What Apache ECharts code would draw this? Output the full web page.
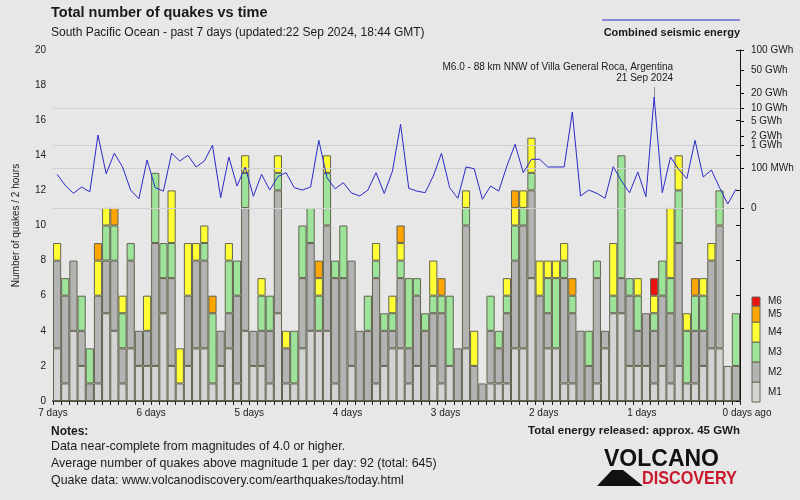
<!DOCTYPE html>
<html><head><meta charset="utf-8">
<script src="https://cdn.jsdelivr.net/npm/echarts@6/dist/echarts.min.js"></script>
<style>html,body{margin:0;padding:0;background:#e7e7e7}#c{width:800px;height:500px}</style>
</head><body><div id="c"></div>
<script>
// ---- data: 84 two-hour bins, oldest first ----
const binCount = 84;
const categories = Array.from({length: binCount}, (_, i) => (168 - 2 * i) + 'h');
const dayLabels = ['0 days ago', '1 days', '2 days', '3 days', '4 days', '5 days', '6 days', '7 days'];

const m1 = [3,1,4,2,0,1,5,4,1,3, 2,2,2,5,2,1,2,3,3,1, 2,3,1,4,2,2,1,5,1,1, 3,4,4,4,1,0,2,0,0,1, 2,3,3,1,2,0,2,1,2,0, 3,0,0,1,1,1,3,3,7,0, 3,3,1,1,0,0,1,3,5,5, 2,2,2,1,2,1,2,1,1,2, 3,3,2,0];
const m2 = [5,5,4,2,1,5,3,4,2,5, 2,2,7,2,5,0,4,5,5,0, 2,2,5,7,2,2,3,7,2,0, 4,5,0,6,6,7,6,4,4,6, 2,1,4,2,4,4,3,4,0,3, 7,2,1,3,2,4,5,7,5,6, 2,0,6,4,4,2,6,1,0,2, 4,2,3,3,4,4,7,0,3,2, 5,7,0,2];
const m3 = [0,1,0,2,2,0,2,2,2,1, 0,0,4,2,2,0,0,0,1,4, 0,3,2,2,0,2,2,1,0,3, 3,2,2,3,1,3,0,0,2,1, 1,1,1,4,1,1,1,1,4,0, 1,0,0,2,1,1,2,1,1,0, 2,4,1,1,0,2,1,0,1,7, 1,2,0,1,2,2,3,3,2,2, 0,2,0,3];
const m4 = [1,0,0,0,0,2,1,0,1,0, 0,2,0,0,3,2,3,1,1,0, 0,1,0,1,0,1,0,1,1,0, 0,0,1,1,0,0,0,0,0,1, 0,1,1,0,0,0,2,0,0,0, 1,2,0,0,0,1,1,1,2,2, 1,1,1,0,0,0,0,0,3,0, 0,1,0,1,0,4,2,1,0,1, 1,0,0,0];
const m5 = [0,0,0,0,0,1,0,1,0,0, 0,0,0,0,0,0,0,0,0,1, 0,0,0,0,0,0,0,0,0,0, 0,0,1,0,0,0,0,0,0,0, 0,0,1,0,0,0,0,1,0,0, 0,0,0,0,0,0,1,0,0,0, 0,0,0,1,0,0,0,0,0,0, 0,0,0,0,0,0,0,0,1,0, 0,0,0,0];
const m6 = [0,0,0,0,0,0,0,0,0,0, 0,0,0,0,0,0,0,0,0,0, 0,0,0,0,0,0,0,0,0,0, 0,0,0,0,0,0,0,0,0,0, 0,0,0,0,0,0,0,0,0,0, 0,0,0,0,0,0,0,0,0,0, 0,0,0,0,0,0,0,0,0,0, 0,0,0,1,0,0,0,0,0,0, 0,0,0,0];

// combined seismic energy per bin, MWh
const energyMWh = [44,6,0.7,4.2,1.1,2100,48,500,118,1.8, 0.07,259,3.5,1.4,500,233,413,118,233,984, 0.12,350,5.2,118,0.22,44,1.9,31,56,3.5, 1.9,4.2,1440,26,2.7,10.5,0.77,0.25,1.9,56, 0.65,68,4170,3.0,1.4,0.85,34,500,3.5,0.087, 118,95,0.05,5.2,1.4,133,1065,56,278,278, 118,118,118,8280,0.25,1.9,0.7,0.087,122,15, 0.85,61,0.19,17100,0.85,350,88,22,1440,29, 80,3.5,0.001,2.3];

const energyTickGWh = [0, 0.1, 1, 2, 5, 10, 20, 50, 100];
const energyTickLabels = ['0', '100 MWh', '1 GWh', '2 GWh', '5 GWh', '10 GWh', '20 GWh', '50 GWh', '100 GWh'];
const energyGridGWh = [0, 0.1, 1, 10];

const magNames = ['M1', 'M2', 'M3', 'M4', 'M5', 'M6'];
const magColors = ['#d4d4d4', '#b3b3b3', '#9de39a', '#ffff33', '#ffa500', '#ee1111'];
const magData = [m1, m2, m3, m4, m5, m6];

// ---- helpers ----
const POW = 0.2;
const tr = gwh => Math.pow(gwh, POW);
const tickVals = energyTickGWh.map(tr);
const FONT = '"Liberation Sans", Arial, sans-serif';
const TXT = '#1a1a1a';

const peakIdx = energyMWh.indexOf(Math.max(...energyMWh));
const peakT = tr(energyMWh[peakIdx] / 1000);

const barSeries = magData.map((arr, k) => ({
  name: magNames[k], type: 'bar', stack: 'q', xAxisIndex: 0, yAxisIndex: 0,
  barCategoryGap: '0%', barGap: '0%', z: 2,
  itemStyle: {color: magColors[k], borderColor: '#636350', borderWidth: 1},
  emphasis: {disabled: true},
  data: arr.map(v => v === 0 ? '-' : v)
}));

const legendYs = {M6: [297, 306], M5: [306, 322], M4: [322, 342], M3: [342, 362], M2: [362, 382], M1: [382, 402]};
const legendRects = [];
magNames.forEach((n, k) => {
  const [a, b] = legendYs[n];
  legendRects.push({type: 'rect', shape: {x: 752, y: a, width: 8, height: b - a},
    style: {fill: magColors[k], stroke: '#666655', lineWidth: 1}, silent: true});
  legendRects.push({type: 'text', x: 768, y: (a + b) / 2,
    style: {text: n, fill: TXT, font: '10px ' + FONT, textVerticalAlign: 'middle'}, silent: true});
});

const noteStyle = {fontSize: 12.4, fontWeight: 'normal', color: TXT, fontFamily: FONT};

const chart = echarts.init(document.getElementById('c'), null, {renderer: 'canvas'});
chart.setOption({
  backgroundColor: '#e7e7e7',
  animation: false,
  textStyle: {fontFamily: FONT},
  title: [
    {text: 'Total number of quakes vs time', left: 51, top: 5, padding: 0,
      textStyle: {fontSize: 14.5, fontWeight: 'bold', color: TXT, fontFamily: FONT}},
    {text: 'South Pacific Ocean - past 7 days (updated:22 Sep 2024, 18:44 GMT)', left: 51, top: 27, padding: 0,
      textStyle: {fontSize: 12, fontWeight: 'normal', color: TXT, fontFamily: FONT}},
    {text: 'Combined seismic energy', right: 60, top: 27, padding: 0,
      textStyle: {fontSize: 11, fontWeight: 'bold', color: TXT, fontFamily: FONT}},
    {text: 'Notes:', left: 51, top: 426, padding: 0,
      textStyle: {fontSize: 12, fontWeight: 'bold', color: TXT, fontFamily: FONT}},
    {text: 'Data near-complete from magnitudes of 4.0 or higher.', left: 51, top: 441, padding: 0, textStyle: noteStyle},
    {text: 'Average number of quakes above magnitude 1 per day: 92 (total: 645)', left: 51, top: 458, padding: 0, textStyle: noteStyle},
    {text: 'Quake data: www.volcanodiscovery.com/earthquakes/today.html', left: 51, top: 475, padding: 0, textStyle: noteStyle},
    {text: 'Total energy released: approx. 45 GWh', right: 60, top: 425, padding: 0,
      textStyle: {fontSize: 11.5, fontWeight: 'bold', color: TXT, fontFamily: FONT}}
  ],
  grid: {left: 53, right: 60, top: 50, bottom: 99, containLabel: false},
  xAxis: [
    {type: 'category', data: categories, boundaryGap: true, position: 'bottom',
      axisLine: {show: true, lineStyle: {color: '#4d4d40', width: 2}},
      axisTick: {show: true, interval: 0, length: 4, lineStyle: {color: '#222'}},
      axisLabel: {show: false}, splitLine: {show: false}},
    {type: 'value', min: 0, max: 7, interval: 1, inverse: true, position: 'bottom',
      axisLine: {show: false}, axisTick: {show: false}, splitLine: {show: false},
      axisLabel: {show: true, margin: 7, fontSize: 10, color: TXT, fontFamily: FONT,
        formatter: v => v === 0 ? '{z|' + dayLabels[0] + '}' : dayLabels[v],
        rich: {z: {fontSize: 10, color: TXT, fontFamily: FONT, padding: [0, 0, 0, 14]}}}}
  ],
  yAxis: [
    {type: 'value', min: 0, max: 20, interval: 2, position: 'left',
      name: 'Number of quakes / 2 hours', nameLocation: 'middle', nameRotate: 90, nameGap: 32,
      nameTextStyle: {fontSize: 10, color: TXT, fontFamily: FONT},
      axisLine: {show: true, lineStyle: {color: '#111', width: 1}},
      axisTick: {show: true, length: 4, lineStyle: {color: '#111'}},
      axisLabel: {fontSize: 10, color: TXT, margin: 7, fontFamily: FONT},
      splitLine: {show: false}},
    {type: 'value', min: -3.068, max: tr(100), position: 'right',
      axisLine: {show: true, onZero: false, lineStyle: {color: '#111', width: 1}},
      axisTick: {show: true, length: 4, customValues: tickVals, lineStyle: {color: '#111'}},
      axisLabel: {show: true, margin: 11, fontSize: 10, color: TXT, fontFamily: FONT, customValues: tickVals,
        formatter: v => {
          let best = 0;
          tickVals.forEach((tv, i) => { if (Math.abs(tv - v) < Math.abs(tickVals[best] - v)) best = i; });
          return energyTickLabels[best];
        }},
      splitLine: {show: false}}
  ],
  series: [
    {type: 'line', name: 'grid', xAxisIndex: 0, yAxisIndex: 1, data: [], z: 1, silent: true,
      markLine: {silent: true, symbol: 'none', animation: false,
        lineStyle: {color: '#d0d0d0', width: 1, type: 'solid'}, label: {show: false},
        data: energyGridGWh.map(g => ({yAxis: tr(g)}))}},
    ...barSeries,
    {type: 'line', name: 'Combined seismic energy', xAxisIndex: 0, yAxisIndex: 1, z: 5,
      showSymbol: false, symbol: 'none', lineStyle: {color: '#2a2ac8', width: 1},
      itemStyle: {color: '#2a2ac8'}, emphasis: {disabled: true},
      data: energyMWh.map(e => tr(e / 1000)),
      markLine: {silent: true, symbol: 'none', animation: false,
        lineStyle: {color: '#8a8a8a', width: 1, type: 'solid'}, label: {show: false},
        data: [[{coord: [peakIdx, peakT]}, {coord: [peakIdx, peakT + 0.16]}]]}}
  ],
  graphic: [
    {type: 'line', shape: {x1: 602, y1: 20, x2: 740, y2: 20}, style: {stroke: '#2a2ac8', lineWidth: 1}, silent: true},
    {type: 'text', x: 673, y: 67, style: {text: 'M6.0 - 88 km NNW of Villa General Roca, Argentina', fill: TXT,
      font: '10px ' + FONT, textAlign: 'right', textVerticalAlign: 'middle'}, silent: true},
    {type: 'text', x: 673, y: 78, style: {text: '21 Sep 2024', fill: TXT,
      font: '10px ' + FONT, textAlign: 'right', textVerticalAlign: 'middle'}, silent: true},
    ...legendRects,
    {type: 'polygon', shape: {points: [[597, 486], [612, 470], [623, 470], [643, 486]]}, style: {fill: '#111'}, silent: true},
    {type: 'text', x: 604, y: 460, style: {text: 'VOLCANO', fill: '#111', font: 'bold 23px ' + FONT,
      textVerticalAlign: 'middle'}, silent: true},
    {type: 'text', x: 642, y: 479, scaleX: 0.9,
      style: {text: 'DISCOVERY', fill: '#c8182c', font: 'bold 18px ' + FONT,
      textVerticalAlign: 'middle'}, silent: true}
  ]
});
</script></body></html>
